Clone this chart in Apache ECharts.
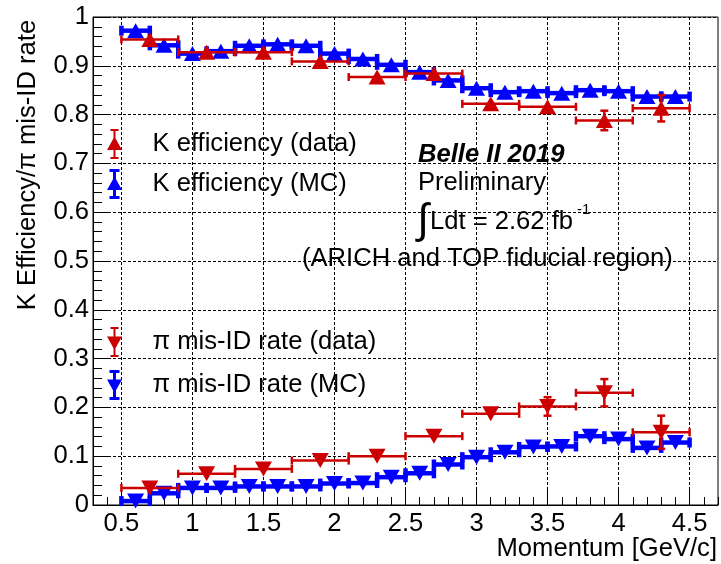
<!DOCTYPE html>
<html>
<head>
<meta charset="utf-8">
<script src="https://cdn.jsdelivr.net/npm/echarts@6/dist/echarts.min.js"></script>
<style>
html, body { margin: 0; padding: 0; background: #fff; }
#chart { width: 721px; height: 564px; }
</style>
</head>
<body>
<div id="chart"></div>
<script>
// ---------------- data ----------------
const xTickLabels = [0.5, 1, 1.5, 2, 2.5, 3, 3.5, 4, 4.5];
const yTickLabels = [0, 0.1, 0.2, 0.3, 0.4, 0.5, 0.6, 0.7, 0.8, 0.9, 1];

// MC bins (0.2 GeV/c wide)
const mcMomentum = [0.6, 0.8, 1.0, 1.2, 1.4, 1.6, 1.8, 2.0, 2.2, 2.4, 2.6, 2.8, 3.0, 3.2, 3.4, 3.6, 3.8, 4.0, 4.2, 4.4];
const mcHalfWidth = 0.1;
const kEffMC = [0.972, 0.942, 0.925, 0.930, 0.941, 0.944, 0.941, 0.925, 0.914, 0.902, 0.887, 0.870, 0.854, 0.846, 0.848, 0.844, 0.850, 0.848, 0.837, 0.837];
const piMisIdMC = [0.008, 0.024, 0.035, 0.035, 0.038, 0.038, 0.038, 0.044, 0.045, 0.057, 0.065, 0.083, 0.098, 0.108, 0.119, 0.120, 0.141, 0.135, 0.117, 0.128];

// Data bins (0.4 GeV/c wide)
const dataMomentum = [0.7, 1.1, 1.5, 1.9, 2.3, 2.7, 3.1, 3.5, 3.9, 4.3];
const dataHalfWidth = 0.2;
const kEffData = [0.954, 0.928, 0.928, 0.909, 0.877, 0.884, 0.822, 0.816, 0.788, 0.813];
const kEffDataErr = [0, 0, 0, 0, 0, 0, 0, 0, 0.020, 0.027];
const piMisIdData = [0.035, 0.064, 0.074, 0.091, 0.100, 0.141, 0.187, 0.202, 0.230, 0.149];
const piMisIdDataErr = [0, 0, 0, 0, 0, 0, 0, 0.019, 0.028, 0.034];

const seriesNames = ['K efficiency (data)', 'K efficiency (MC)', 'π mis-ID rate (data)', 'π mis-ID rate (MC)'];

// ---------------- styling ----------------
const RED = '#cc0000';
const BLUE = '#0000ff';
const FONT = "'Liberation Sans', Arial, Helvetica, sans-serif";
const FS = 25.6;
const MARK = [17, 15];

const iconUpThin = 'path://M4,0 H12 V2 H9 V28 H12 V30 H4 V28 H7 V2 H4 Z M8,7.5 L15.5,21 L0.5,21 Z';
const iconUpThick = 'path://M3,0 H13 V3 H9.5 V27 H13 V30 H3 V27 H6.5 V3 H3 Z M8,7.5 L15.5,21 L0.5,21 Z';
const iconDownThin = 'path://M4,0 H12 V2 H9 V28 H12 V30 H4 V28 H7 V2 H4 Z M0.5,9.5 L15.5,9.5 L8,23 Z';
const iconDownThick = 'path://M3,0 H13 V3 H9.5 V27 H13 V30 H3 V27 H6.5 V3 H3 Z M0.5,9.5 L15.5,9.5 L8,23 Z';

function errData(xs, ys, hw, errs) {
  return xs.map((x, i) => [x, ys[i], hw, errs ? errs[i] : 0]);
}
function pointData(xs, ys) {
  return xs.map((x, i) => [x, ys[i]]);
}
function makeErrRender(color, lw, capH) {
  return function (params, api) {
    const x = api.value(0), y = api.value(1), ex = api.value(2), ey = api.value(3);
    const l = api.coord([x - ex, y]);
    const r = api.coord([x + ex, y]);
    const st = () => ({ stroke: color, lineWidth: lw });
    const ch = [
      { type: 'line', shape: { x1: l[0], y1: l[1], x2: r[0], y2: r[1] }, style: st() },
      { type: 'line', shape: { x1: l[0], y1: l[1] - capH / 2, x2: l[0], y2: l[1] + capH / 2 }, style: st() },
      { type: 'line', shape: { x1: r[0], y1: r[1] - capH / 2, x2: r[0], y2: r[1] + capH / 2 }, style: st() }
    ];
    if (ey > 0) {
      const t = api.coord([x, y + ey]);
      const b = api.coord([x, y - ey]);
      ch.push({ type: 'line', shape: { x1: t[0], y1: t[1], x2: b[0], y2: b[1] }, style: st() });
      ch.push({ type: 'line', shape: { x1: t[0] - capH / 2, y1: t[1], x2: t[0] + capH / 2, y2: t[1] }, style: st() });
      ch.push({ type: 'line', shape: { x1: b[0] - capH / 2, y1: b[1], x2: b[0] + capH / 2, y2: b[1] }, style: st() });
    }
    return { type: 'group', children: ch };
  };
}

const chart = echarts.init(document.getElementById('chart'), null, { renderer: 'canvas' });

const legendText = { fontSize: FS, fontFamily: FONT, color: '#000', padding: [0, 0, 0, 25] };

const option = {
  animation: false,
  backgroundColor: '#fff',
  textStyle: { fontFamily: FONT },
  grid: {
    left: 93, right: 3, top: 17, bottom: 59,
    outerBoundsMode: 'none', containLabel: false,
    show: true, borderColor: '#000', borderWidth: 1, backgroundColor: '#fff'
  },
  legend: [
    {
      left: 107, top: 129, orient: 'vertical', padding: 0, itemGap: 10,
      itemWidth: 16, itemHeight: 30, selectedMode: false,
      textStyle: legendText,
      data: [
        { name: seriesNames[0], icon: iconUpThin },
        { name: seriesNames[1], icon: iconUpThick }
      ]
    },
    {
      left: 107, top: 327, orient: 'vertical', padding: 0, itemGap: 13,
      itemWidth: 16, itemHeight: 30, selectedMode: false,
      textStyle: legendText,
      data: [
        { name: seriesNames[2], icon: iconDownThin },
        { name: seriesNames[3], icon: iconDownThick }
      ]
    }
  ],
  xAxis: [
    {
      type: 'value', min: 0.3, max: 4.7, position: 'bottom',
      name: 'Momentum [GeV/c]', nameLocation: 'end', nameGap: -1, nameMoveOverlap: false,
      nameTextStyle: { fontSize: FS, fontFamily: FONT, color: '#000', align: 'right', verticalAlign: 'top', padding: [31, 0, 0, 0] },
      axisLine: { show: true, onZero: false, lineStyle: { color: '#000', width: 1 } },
      axisTick: { show: true, inside: true, length: 15, customValues: xTickLabels, lineStyle: { color: '#000' } },
      axisLabel: { show: true, customValues: xTickLabels, fontSize: FS, fontFamily: FONT, color: '#000', margin: 6 },
      splitLine: { show: true, lineStyle: { color: '#000', width: 1, type: [3, 2] } }
    },
    {
      type: 'value', min: 0.3, max: 4.7, interval: 0.1, position: 'bottom',
      axisLine: { show: false },
      axisTick: { show: true, inside: true, length: 8, lineStyle: { color: '#000' } },
      axisLabel: { show: false },
      splitLine: { show: false }
    }
  ],
  yAxis: {
    type: 'value', min: 0, max: 1, interval: 0.1,
    axisLine: { show: true, onZero: false, lineStyle: { color: '#000', width: 1 } },
    axisTick: { show: true, inside: true, length: 18, lineStyle: { color: '#000' } },
    minorTick: { show: true, splitNumber: 5, length: 9, lineStyle: { color: '#000' } },
    axisLabel: {
      fontSize: FS, fontFamily: FONT, color: '#000', margin: 4,
      formatter: v => String(Math.round(v * 10) / 10)
    },
    splitLine: { show: true, lineStyle: { color: '#000', width: 1, type: [3, 2] } }
  },
  graphic: [
    {
      type: 'text', x: 28, y: 165, rotation: Math.PI / 2,
      style: { text: 'K Efficiency/π mis-ID rate', fontSize: FS, fontFamily: FONT, fill: '#000', align: 'center', verticalAlign: 'middle', textAlign: 'center', textVerticalAlign: 'middle' }
    },
    {
      type: 'text', x: 418, y: 155,
      style: { text: 'Belle II 2019', fontSize: FS, fontFamily: FONT, fontWeight: 'bold', fontStyle: 'italic', fill: '#000', align: 'left', verticalAlign: 'middle', textAlign: 'left', textVerticalAlign: 'middle' }
    },
    {
      type: 'text', x: 418, y: 183,
      style: { text: 'Preliminary', fontSize: FS, fontFamily: FONT, fill: '#000', align: 'left', verticalAlign: 'middle', textAlign: 'left', textVerticalAlign: 'middle' }
    },
    {
      type: 'text', x: 423, y: 221,
      style: { text: '∫', fontSize: 42, fontFamily: FONT, fill: '#000', align: 'center', verticalAlign: 'middle', textAlign: 'center', textVerticalAlign: 'middle' }
    },
    {
      type: 'text', x: 430, y: 222,
      style: { text: 'Ldt = 2.62 fb', fontSize: FS, fontFamily: FONT, fill: '#000', align: 'left', verticalAlign: 'middle', textAlign: 'left', textVerticalAlign: 'middle' }
    },
    {
      type: 'text', x: 577, y: 210,
      style: { text: '-1', fontSize: 15, fontFamily: FONT, fill: '#000', align: 'left', verticalAlign: 'middle', textAlign: 'left', textVerticalAlign: 'middle' }
    },
    {
      type: 'text', x: 302, y: 259,
      style: { text: '(ARICH and TOP fiducial region)', fontSize: FS, fontFamily: FONT, fill: '#000', align: 'left', verticalAlign: 'middle', textAlign: 'left', textVerticalAlign: 'middle' }
    }
  ],
  series: [
    // markers (first, so the legend picks them up)
    { name: seriesNames[0], type: 'scatter', z: 5, symbol: 'triangle', symbolSize: MARK, itemStyle: { color: RED, opacity: 1 }, data: pointData(dataMomentum, kEffData), silent: true },
    { name: seriesNames[1], type: 'scatter', z: 3, symbol: 'triangle', symbolSize: MARK, itemStyle: { color: BLUE, opacity: 1 }, data: pointData(mcMomentum, kEffMC), silent: true },
    { name: seriesNames[2], type: 'scatter', z: 5, symbol: 'triangle', symbolRotate: 180, symbolSize: MARK, itemStyle: { color: RED, opacity: 1 }, data: pointData(dataMomentum, piMisIdData), silent: true },
    { name: seriesNames[3], type: 'scatter', z: 3, symbol: 'triangle', symbolRotate: 180, symbolSize: MARK, itemStyle: { color: BLUE, opacity: 1 }, data: pointData(mcMomentum, piMisIdMC), silent: true },
    // error bars
    { name: seriesNames[1], type: 'custom', z: 2, itemStyle: { color: BLUE }, encode: { x: 0, y: 1 }, renderItem: makeErrRender(BLUE, 4.5, 10), data: errData(mcMomentum, kEffMC, mcHalfWidth, null), silent: true },
    { name: seriesNames[3], type: 'custom', z: 2, itemStyle: { color: BLUE }, encode: { x: 0, y: 1 }, renderItem: makeErrRender(BLUE, 4.5, 10), data: errData(mcMomentum, piMisIdMC, mcHalfWidth, null), silent: true },
    { name: seriesNames[0], type: 'custom', z: 4, itemStyle: { color: RED }, encode: { x: 0, y: 1 }, renderItem: makeErrRender(RED, 2.5, 8), data: errData(dataMomentum, kEffData, dataHalfWidth, kEffDataErr), silent: true },
    { name: seriesNames[2], type: 'custom', z: 4, itemStyle: { color: RED }, encode: { x: 0, y: 1 }, renderItem: makeErrRender(RED, 2.5, 8), data: errData(dataMomentum, piMisIdData, dataHalfWidth, piMisIdDataErr), silent: true }
  ]
};
chart.setOption(option);
</script>
</body>
</html>
